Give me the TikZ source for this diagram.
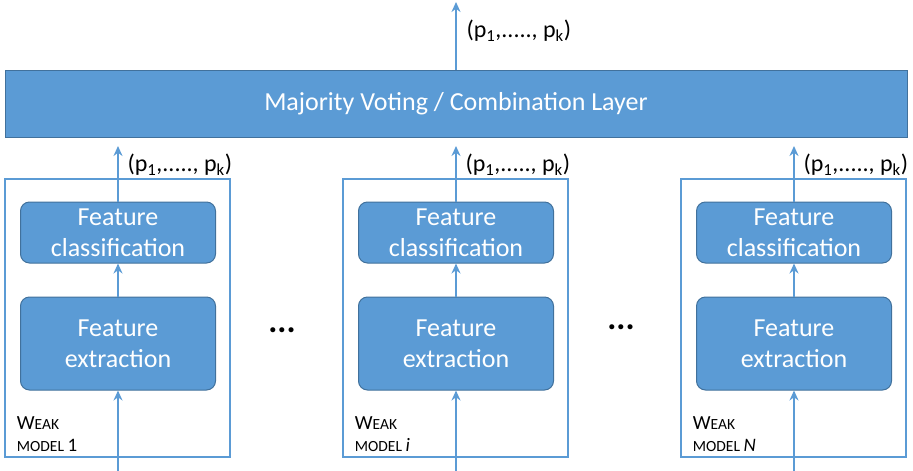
\documentclass[tikz,border=0pt]{standalone}
\usepackage{fontspec}
\setmainfont{Carlito}
\usetikzlibrary{positioning,arrows.meta}

\definecolor{boxblue}{HTML}{5B9BD5}
\definecolor{edgeblue}{HTML}{41719C}

\tikzset{
  layer/.style={draw=edgeblue, fill=boxblue, text=white, line width=1pt,
    font=\fontsize{26}{31}\selectfont, align=center},
  stage/.style={layer, rounded corners=9pt, minimum width=195pt},
  modelbox/.style={draw=boxblue, line width=1.2pt, minimum width=225pt, minimum height=278pt},
  flow/.style={draw=boxblue, line width=2.6pt, -{Stealth[length=10pt,width=9pt]}},
  problabel/.style={anchor=west, font=\fontsize{24}{28}\selectfont},
  weaklabel/.style={anchor=south west, align=left, font=\fontsize{15.5}{22}\selectfont},
  dotsmark/.style={anchor=base, font=\fontsize{34}{34}\selectfont\bfseries},
}
\newcommand{\weakname}[1]{{\fontsize{20}{22}\selectfont W}EAK\\MODEL {\fontsize{19}{22}\selectfont #1}}

\begin{document}
\begin{tikzpicture}[x=1pt,y=-1pt]
\useasboundingbox (0,0) rectangle (913,471);

% combination layer on top
\node[layer, minimum width=902pt, minimum height=67pt] (comb) at (456,103.5) {Majority Voting / Combination Layer};
\coordinate (out) at (456,2);
\draw[flow] (comb.north) -- (out);
\node[problabel] (pout) at (463,31) {(p\textsubscript{1},....., p\textsubscript{k})};

% the weak models
\foreach \cx/\nm/\lab in {118/a/1, 456/b/\textit{i}, 794/c/\textit{N}} {
  \node[modelbox] (box\nm) at (\cx-0.5,318) {};
  \node[stage, minimum height=93pt] (ext\nm) at (\cx,343.5) {Feature\\extraction};
  \node[stage, minimum height=61pt] (cls\nm) at (\cx,232.5) {Feature\\classification};
  \coordinate (in\nm) at (\cx,471);
  \coordinate (top\nm) at (\cx,146);
  \draw[flow] (in\nm) -- (ext\nm);
  \draw[flow] (ext\nm) -- (cls\nm);
  \draw[flow] (cls\nm) -- (top\nm);
  \node[problabel] (p\nm) at (\cx+6,165) {(p\textsubscript{1},....., p\textsubscript{k})};
  \node[weaklabel] (w\nm) at ([shift={(9,-2)}]box\nm.south west) {\weakname{\lab}};
}

\node[dotsmark] (dotsa) at (282,332) {...};
\node[dotsmark] (dotsb) at (621,329) {...};
\end{tikzpicture}
\end{document}
